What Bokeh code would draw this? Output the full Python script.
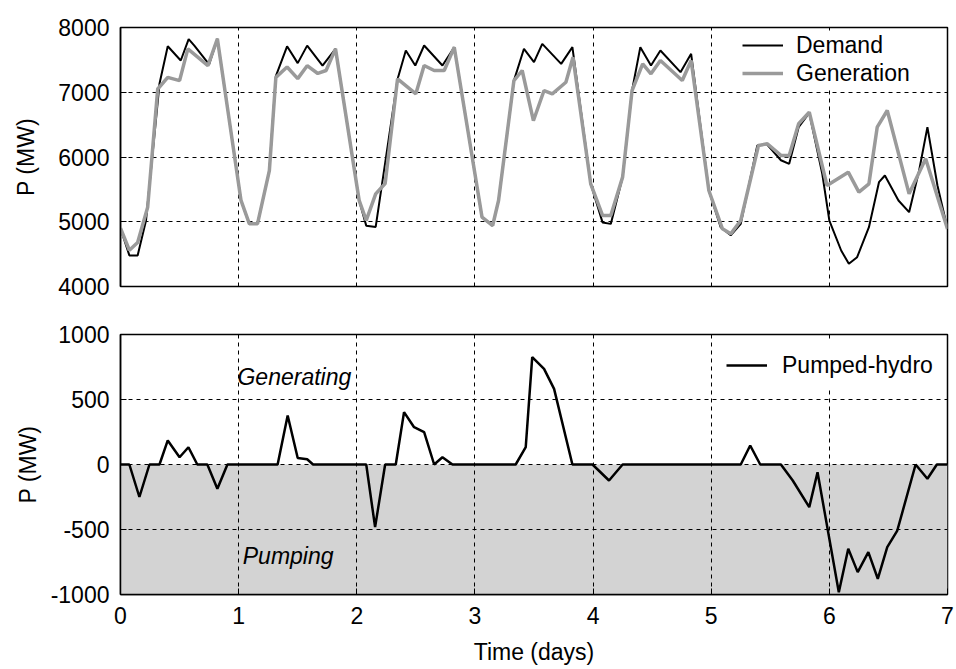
from bokeh.plotting import figure
from bokeh.models import Range1d, FixedTicker, Legend, LegendItem, Label, BoxAnnotation
from bokeh.layouts import column
from bokeh.embed import file_html
from bokeh.resources import INLINE

FONT = "Liberation Sans"

# ---- data ----
demand_t = [0.00, 0.075, 0.145, 0.216, 0.33, 0.40, 0.51, 0.577, 0.625, 0.75, 0.82,
            1.02, 1.09, 1.16, 1.26, 1.315, 1.41, 1.50, 1.58, 1.71, 1.82,
            2.02, 2.08, 2.16, 2.345, 2.415, 2.495, 2.57, 2.725, 2.825,
            3.06, 3.15, 3.20, 3.33, 3.415, 3.50, 3.57, 3.73, 3.825,
            3.98, 4.08, 4.15, 4.25, 4.33, 4.40, 4.49, 4.57, 4.74, 4.83,
            4.98, 5.08, 5.165, 5.25, 5.39, 5.47, 5.59, 5.66, 5.74, 5.83,
            5.94, 6.00, 6.10, 6.165, 6.235, 6.335, 6.42, 6.47, 6.585, 6.675,
            6.76, 6.83, 6.915, 7.00]
demand_mw = [4900, 4480, 4480, 5020, 7130, 7710, 7490, 7820, 7720, 7430, 7825,
             5330, 4970, 4970, 5790, 7250, 7710, 7450, 7720, 7410, 7670,
             5330, 4940, 4920, 7200, 7645, 7413, 7722, 7413, 7696,
             5070, 4940, 5330, 7180, 7671, 7465, 7748, 7439, 7696,
             5586, 4990, 4967, 5689, 7027, 7696, 7413, 7645, 7310, 7593,
             5483, 4916, 4790, 4968, 6178, 6200, 5950, 5895, 6460, 6680,
             5740, 5019, 4556, 4350, 4453, 4916, 5611, 5714, 5328, 5148,
             5792, 6461, 5560, 4890]

gen_t = [0.00, 0.075, 0.145, 0.23, 0.315, 0.40, 0.50, 0.57, 0.74, 0.82,
         1.02, 1.09, 1.16, 1.26, 1.315, 1.41, 1.50, 1.58, 1.67, 1.74, 1.82,
         2.02, 2.08, 2.16, 2.24, 2.345, 2.50, 2.57, 2.655, 2.74, 2.825,
         3.06, 3.15, 3.20, 3.33, 3.40, 3.495, 3.585, 3.655, 3.77, 3.83,
         3.98, 4.08, 4.15, 4.25, 4.33, 4.42, 4.49, 4.57, 4.755, 4.83,
         4.98, 5.095, 5.165, 5.25, 5.40, 5.475, 5.59, 5.66, 5.74, 5.83,
         5.98, 6.16, 6.25, 6.335, 6.405, 6.49, 6.675, 6.815, 7.00]
gen_mw = [4900, 4560, 4680, 5225, 7050, 7230, 7180, 7670, 7410, 7825,
          5330, 4970, 4970, 5790, 7230, 7390, 7210, 7410, 7290, 7336, 7670,
          5330, 5020, 5430, 5590, 7207, 6976, 7413, 7336, 7336, 7696,
          5071, 4942, 5328, 7181, 7336, 6560, 7027, 6976, 7155, 7541,
          5586, 5097, 5097, 5689, 7027, 7439, 7285, 7490, 7181, 7490,
          5483, 4890, 4813, 5019, 6178, 6204, 6024, 6024, 6513, 6692,
          5560, 5766, 5457, 5586, 6461, 6718, 5431, 5972, 4890]

hydro_t = [0.00, 0.075, 0.16, 0.245, 0.33, 0.40, 0.50, 0.575, 0.65, 0.735, 0.82, 0.905,
           1.33, 1.415, 1.50, 1.58, 1.63, 2.08, 2.155, 2.24, 2.33, 2.40, 2.485, 2.57,
           2.655, 2.725, 2.81, 3.345, 3.43, 3.485, 3.585, 3.67, 3.825, 3.995, 4.135,
           4.25, 5.25, 5.33, 5.415, 5.59, 5.69, 5.83, 5.90, 6.08, 6.16, 6.24, 6.33,
           6.41, 6.49, 6.575, 6.73, 6.83, 6.91, 7.00]
hydro_mw = [0, 0, -250, 0, 0, 185, 56, 133, 0, 0, -187, 0,
            0, 377, 50, 40, 0, 0, -482, 0, 0, 403, 287, 249,
            0, 56, 0, 0, 133, 826, 736, 582, 0, 0, -123,
            0, 0, 146, 0, 0, -123, -328, -59, -982, -648, -828, -674,
            -879, -636, -508, 0, -110, 0, 0]

x_ticks = [0, 1, 2, 3, 4, 5, 6, 7]
top_y_ticks = [4000, 5000, 6000, 7000, 8000]
bot_y_ticks = [-1000, -500, 0, 500, 1000]
bot_y_tick_labels = {-1000: "-1000", -500: "-500", 0: "0", 500: "500", 1000: "1000"}


def style(p, yticks, y_label_standoff):
    p.background_fill_color = "white"
    p.border_fill_color = "white"
    p.outline_line_color = "black"
    p.outline_line_width = 1.5
    p.xaxis.ticker = FixedTicker(ticks=x_ticks)
    p.yaxis.ticker = FixedTicker(ticks=yticks)
    p.xgrid.ticker = FixedTicker(ticks=x_ticks)
    p.ygrid.ticker = FixedTicker(ticks=yticks)
    for g in (p.xgrid, p.ygrid):
        g.grid_line_color = "black"
        g.grid_line_dash = "4 4"
        g.grid_line_width = 1
    for ax in (p.xaxis, p.yaxis):
        ax.axis_line_color = "black"
        ax.axis_line_width = 1.5
        ax.major_tick_in = 6
        ax.major_tick_out = 0
        ax.minor_tick_line_color = None
        ax.major_label_text_font = FONT
        ax.major_label_text_font_size = "23px"
        ax.major_label_text_color = "black"
        ax.axis_label_text_font = FONT
        ax.axis_label_text_font_size = "23px"
        ax.axis_label_text_font_style = "normal"
        ax.axis_label_text_color = "black"
    p.yaxis.major_label_standoff = 11
    p.yaxis.axis_label = "P (MW)"
    p.yaxis.axis_label_standoff = y_label_standoff


# ---- top panel ----
top = figure(width=955, height=308, x_range=Range1d(0, 7), y_range=Range1d(4000, 8000),
             output_backend="svg", toolbar_location=None,
             min_border_left=120, min_border_right=8, min_border_top=27, min_border_bottom=22)
style(top, top_y_ticks, 16)
top.xaxis.visible = False

r_d = top.line(demand_t, demand_mw, line_color="black", line_width=2)
r_g = top.line(gen_t, gen_mw, line_color="#9a9a9a", line_width=3.5)

leg_top = Legend(items=[LegendItem(label="Demand", renderers=[r_d]),
                        LegendItem(label="Generation", renderers=[r_g])],
                 location=(622, 199), label_text_font=FONT, label_text_font_size="23px",
                 label_text_color="black",
                 glyph_width=41, glyph_height=28, label_height=28, label_standoff=13,
                 padding=4, spacing=0, margin=0, border_line_color=None,
                 background_fill_color="white", background_fill_alpha=1.0)
top.add_layout(leg_top)

# ---- bottom panel ----
bot = figure(width=955, height=359, x_range=Range1d(0, 7), y_range=Range1d(-1000, 1000),
             output_backend="svg", toolbar_location=None,
             min_border_left=120, min_border_right=8, min_border_top=26, min_border_bottom=73)
style(bot, bot_y_ticks, 7)
bot.yaxis.major_label_overrides = bot_y_tick_labels
bot.xaxis.axis_label = "Time (days)"
bot.xaxis.major_label_standoff = 12
bot.xaxis.axis_label_standoff = 12

bot.add_layout(BoxAnnotation(top=0, fill_color="#d3d3d3", fill_alpha=1.0,
                             line_color=None, level="image"))

r_h = bot.line(hydro_t, hydro_mw, line_color="black", line_width=2.5)

leg_bot = Legend(items=[LegendItem(label="Pumped-hydro", renderers=[r_h])],
                 location=(606, 204), label_text_font=FONT, label_text_font_size="23px",
                 label_text_color="black",
                 glyph_width=41, glyph_height=50, label_height=50, label_standoff=15,
                 padding=4, spacing=0, margin=0, border_line_color=None,
                 background_fill_color="white", background_fill_alpha=1.0)
bot.add_layout(leg_bot)

bot.add_layout(Label(x=0.99, y=670, text="Generating", text_font=FONT,
                     text_font_size="23px", text_font_style="italic",
                     text_baseline="middle", text_color="black"))
bot.add_layout(Label(x=1.035, y=-700, text="Pumping", text_font=FONT,
                     text_font_size="23px", text_font_style="italic",
                     text_baseline="middle", text_color="black"))

layout = column(top, bot, spacing=0)
open("out.html", "w").write(file_html(layout, INLINE))
